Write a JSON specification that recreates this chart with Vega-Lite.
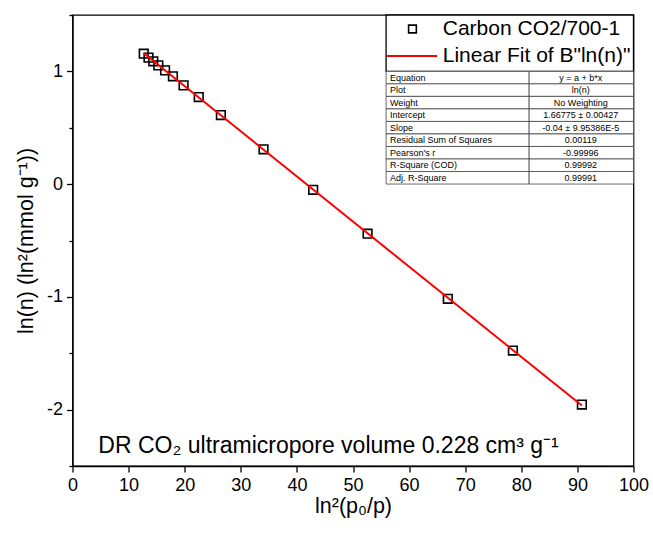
{
  "$schema": "https://vega.github.io/schema/vega-lite/v6.json",
  "width": 561,
  "height": 451,
  "autosize": {"type": "none"},
  "padding": {"left": 72.5, "top": 15, "right": 19.5, "bottom": 77},
  "background": "white",
  "config": {
    "view": {"stroke": "black", "strokeWidth": 1.3},
    "font": "Liberation Sans",
    "axis": {
      "domainColor": "black", "domainWidth": 1.3,
      "tickColor": "black", "tickWidth": 1.3,
      "labelFont": "Liberation Sans", "labelFontSize": 18, "labelColor": "black",
      "titleFont": "Liberation Sans", "titleFontSize": 21.5, "titleFontWeight": "normal", "titleColor": "black",
      "grid": false, "labelFlush": false, "labelOverlap": false, "labelPadding": 4
    }
  },
  "datasets": {
    "points": [
      {"x": 12.7, "y": 1.157}, {"x": 13.55, "y": 1.122}, {"x": 14.4, "y": 1.089},
      {"x": 15.3, "y": 1.053}, {"x": 16.5, "y": 1.009}, {"x": 17.9, "y": 0.956},
      {"x": 19.8, "y": 0.876}, {"x": 22.5, "y": 0.772}, {"x": 26.45, "y": 0.613},
      {"x": 34.05, "y": 0.309}, {"x": 42.9, "y": -0.05}, {"x": 52.6, "y": -0.44},
      {"x": 66.9, "y": -1.017}, {"x": 78.5, "y": -1.476}, {"x": 90.8, "y": -1.955}
    ],
    "fit": [{"x": 12.7, "y": 1.160}, {"x": 90.8, "y": -1.964}],
    "table": [
      {"item": "Equation", "value": "y = a + b*x"},
      {"item": "Plot", "value": "ln(n)"},
      {"item": "Weight", "value": "No Weighting"},
      {"item": "Intercept", "value": "1.66775 ± 0.00427"},
      {"item": "Slope", "value": "-0.04 ± 9.95386E-5"},
      {"item": "Residual Sum of Squares", "value": "0.00119"},
      {"item": "Pearson's r", "value": "-0.99996"},
      {"item": "R-Square (COD)", "value": "0.99992"},
      {"item": "Adj. R-Square", "value": "0.99991"}
    ]
  },
  "layer": [
    {
      "layer": [
        {
          "data": {"name": "points"},
          "mark": {"type": "point", "shape": "square", "size": 75, "filled": false, "stroke": "black", "strokeWidth": 1.6, "opacity": 1},
          "encoding": {
            "x": {
              "field": "x", "type": "quantitative",
              "scale": {"domain": [0, 100], "nice": false},
              "axis": {
                "values": [0, 5, 10, 15, 20, 25, 30, 35, 40, 45, 50, 55, 60, 65, 70, 75, 80, 85, 90, 95, 100],
                "labelExpr": "datum.value % 10 === 0 ? datum.label : ''",
                "tickSize": {"condition": {"test": "datum.value % 10 === 0", "value": 6}, "value": 3.5},
                "title": "ln²(p₀/p)", "titlePadding": 1
              }
            },
            "y": {
              "field": "y", "type": "quantitative",
              "scale": {"domain": [-2.5, 1.5], "nice": false},
              "axis": {
                "values": [-2.5, -2, -1.5, -1, -0.5, 0, 0.5, 1, 1.5],
                "labelExpr": "datum.value % 1 === 0 ? '' + datum.value : ''",
                "tickSize": {"condition": {"test": "datum.value % 1 === 0", "value": 6}, "value": 3.5},
                "title": "ln(n) (ln²(mmol g⁻¹))", "titlePadding": 9
              }
            }
          }
        },
        {
          "data": {"name": "fit"},
          "mark": {"type": "line", "color": "#ff0000", "strokeWidth": 2},
          "encoding": {
            "x": {"field": "x", "type": "quantitative"},
            "y": {"field": "y", "type": "quantitative"}
          }
        },
        {
          "data": {"values": [{}]},
          "mark": {"type": "text", "text": "DR CO₂ ultramicropore volume 0.228 cm³ g⁻¹", "align": "left", "baseline": "middle", "fontSize": 23, "color": "black"},
          "encoding": {"x": {"datum": 4.6}, "y": {"datum": -2.32}}
        },
        {
          "data": {"values": [{}]},
          "mark": {"type": "rect", "fill": "white", "stroke": "black", "strokeWidth": 1.3},
          "encoding": {"x": {"datum": 55.9}, "x2": {"datum": 100}, "y": {"datum": 1.0}, "y2": {"datum": 1.5}}
        },
        {
          "data": {"values": [{}]},
          "mark": {"type": "point", "shape": "square", "size": 60, "filled": false, "stroke": "black", "strokeWidth": 1.6, "opacity": 1},
          "encoding": {"x": {"datum": 60.6}, "y": {"datum": 1.376}}
        },
        {
          "data": {"values": [{}]},
          "mark": {"type": "rule", "color": "#ff0000", "strokeWidth": 2},
          "encoding": {"x": {"datum": 56.0}, "x2": {"datum": 65.0}, "y": {"datum": 1.136}}
        },
        {
          "data": {"values": [{}]},
          "mark": {"type": "text", "text": "Carbon CO2/700-1", "align": "left", "baseline": "middle", "fontSize": 21, "color": "black"},
          "encoding": {"x": {"datum": 66.0}, "y": {"datum": 1.376}}
        },
        {
          "data": {"values": [{}]},
          "mark": {"type": "text", "text": "Linear Fit of B\"ln(n)\"", "align": "left", "baseline": "middle", "fontSize": 21, "color": "black"},
          "encoding": {"x": {"datum": 66.0}, "y": {"datum": 1.136}}
        }
      ]
    },
    {
      "data": {"name": "table"},
      "encoding": {
        "y": {
          "field": "item", "type": "nominal", "sort": null,
          "scale": {"type": "band", "range": [56.35, 169.05], "paddingInner": 0, "paddingOuter": 0},
          "axis": null
        }
      },
      "layer": [
        {
          "mark": {"type": "rect", "fill": "white", "stroke": "#444444", "strokeWidth": 0.8},
          "encoding": {"x": {"datum": 55.9}, "x2": {"datum": 81.4}}
        },
        {
          "mark": {"type": "rect", "fill": "white", "stroke": "#444444", "strokeWidth": 0.8},
          "encoding": {"x": {"datum": 81.4}, "x2": {"datum": 100}}
        },
        {
          "mark": {"type": "text", "align": "left", "baseline": "middle", "fontSize": 9, "color": "black"},
          "encoding": {"x": {"datum": 56.6}, "text": {"field": "item"}}
        },
        {
          "mark": {"type": "text", "align": "center", "baseline": "middle", "fontSize": 9, "color": "black"},
          "encoding": {"x": {"datum": 90.6}, "text": {"field": "value"}}
        }
      ]
    }
  ],
  "resolve": {"scale": {"y": "independent"}}
}
